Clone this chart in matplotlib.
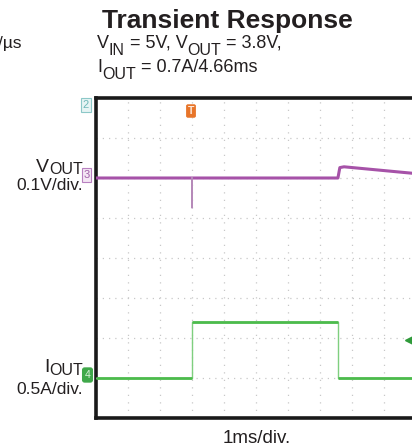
import numpy as np
import matplotlib.pyplot as plt

plt.rcParams['font.family'] = ['Liberation Sans', 'DejaVu Sans']

# scope settings
t_per_div = 1.0      # ms/div
v_per_div = 0.1      # V/div
i_per_div = 0.5      # A/div
vout_ref_div = 6     # channel 3 marker position (div)
iout_ref_div = 1     # channel 4 marker position (div)
iout_trig_a = 0.475  # trigger level on IOUT (A)

# VOUT deviation (mV) vs time (ms)
vout_t = [0, 3.0, 7.56, 7.62, 7.75, 10.0]
vout_mv = [0, 0, 0, 26, 28, 11]
# short undershoot spike at the load step
spike_t = [2.99, 3.0, 3.01]
spike_mv = [0, -75, 0]

# IOUT load step (A) vs time (ms)
iout_t = [0, 3.0, 3.0, 7.56, 7.56, 10.0]
iout_a = [0, 0, 0.7, 0.7, 0, 0]

W, H = 412, 447
INK = "#231f20"
fig = plt.figure(figsize=(W / 100, H / 100), dpi=100)
renderer = fig.canvas.get_renderer()


def fx(px):
    return px / W


def fy(py):
    return 1 - py / H


def rich_text(x, y, runs, ha="left"):
    # runs: (text, size, drop in px below baseline); x, y in pixels
    arts = []
    widths = []
    for s, size, drop in runs:
        t = fig.text(0, 0, s, fontsize=size, color=INK, va="baseline")
        widths.append(t.get_window_extent(renderer).width)
        arts.append((t, drop))
    total = sum(widths)
    if ha == "right":
        cx = x - total
    elif ha == "center":
        cx = x - total / 2
    else:
        cx = x
    for (t, drop), w in zip(arts, widths):
        t.set_position((fx(cx), fy(y + drop)))
        cx += w


# plot area in pixels: left 96, top 98, 10 x 32 px wide, 8 x 40 px tall
ax = fig.add_axes([fx(96), fy(418), 320 / W, 320 / H])
ax.set_xlim(0, 10)
ax.set_ylim(0, 8)

# dotted graticule
for gx in range(1, 10):
    ax.plot([gx, gx], [0, 8], color="#c8c8c8", lw=0.9, ls=(0, (1, 5)), zorder=1)
for gy in range(1, 8):
    ax.plot([0, 10], [gy, gy], color="#c8c8c8", lw=0.9, ls=(0, (1, 4)), zorder=1)

vout_div = vout_ref_div + np.array(vout_mv) / 1000 / v_per_div
spike_div = vout_ref_div + np.array(spike_mv) / 1000 / v_per_div
iout_div = iout_ref_div + np.array(iout_a) / i_per_div
t_v = np.array(vout_t) / t_per_div
t_s = np.array(spike_t) / t_per_div
t_i = np.array(iout_t) / t_per_div

ax.plot(t_v, vout_div, color="#a652a8", lw=2.2, zorder=3)
ax.plot(t_s, spike_div, color="#b68ab9", lw=1.0, zorder=4)

# thin edges, thicker flat parts
ax.plot(t_i, iout_div, color="#7fcf7f", lw=1.0, zorder=3)
for k in range(len(t_i) - 1):
    if iout_div[k] == iout_div[k + 1]:
        ax.plot(t_i[k:k + 2], iout_div[k:k + 2], color="#4cbb4c", lw=2.0,
                solid_capstyle="butt", zorder=3)

ax.set_xticks([])
ax.set_yticks([])
for s in ["left", "top", "bottom"]:
    ax.spines[s].set_linewidth(2.6)
    ax.spines[s].set_color("#1a1a1a")
ax.spines["right"].set_visible(False)

# channel / trigger markers
fig.text(fx(86), fy(105), "2", color="#6fb8b8", fontsize=8, ha="center", va="center",
         bbox=dict(boxstyle="square,pad=0.15", fc="#e6f4f4", ec="#8cc8c8", lw=0.8))
fig.text(fx(86.5), fy(175), "3", color="#a060a8", fontsize=8, ha="center", va="center",
         bbox=dict(boxstyle="square,pad=0.15", fc="#f4e6f4", ec="#b880c0", lw=0.8))
fig.text(fx(87.5), fy(375), "4", color="#d8f0d8", fontsize=7.5, ha="center", va="center",
         bbox=dict(boxstyle="round,pad=0.2", fc="#3fa84a", ec="#3fa84a", lw=0.8))
fig.text(fx(191), fy(111), "T", color="#fde8d8", fontsize=7.5, fontweight="bold",
         ha="center", va="center",
         bbox=dict(boxstyle="round,pad=0.12", fc="#e8752a", ec="#e8752a", lw=0.6))
ax.plot([9.78], [iout_ref_div + iout_trig_a / i_per_div], marker="<",
        color="#2f9a3a", ms=6, clip_on=False, zorder=5)

# title and conditions
fig.text(fx(227), fy(28), "Transient Response", fontsize=19, fontweight="bold",
         color=INK, ha="center", va="baseline")
rich_text(97, 48, [("V", 13, 0), ("IN", 11.5, 7), (" = 5V, V", 13, 0),
                   ("OUT", 11.5, 7), (" = 3.8V,", 13, 0)])
rich_text(97, 72, [("I", 13, 0), ("OUT", 11.5, 7), (" = 0.7A/4.66ms", 13, 0)])
rich_text(22, 48, [("/µs", 12.5, 0)], ha="right")

# channel labels
rich_text(83, 172, [("V", 14, 0), ("OUT", 11.5, 2)], ha="right")
rich_text(83, 190, [("0.1V/div.", 12.5, 0)], ha="right")
rich_text(83, 372, [("I", 14, 0), ("OUT", 11.5, 3)], ha="right")
rich_text(83, 394, [("0.5A/div.", 12.5, 0)], ha="right")
rich_text(257, 443, [("1ms/div.", 13.5, 0)], ha="center")

fig.savefig("out.png", dpi=100)
